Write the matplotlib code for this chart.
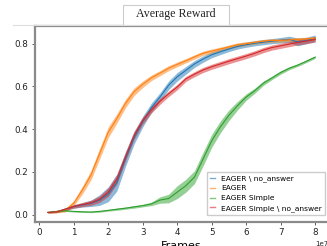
import matplotlib
matplotlib.use("Agg")
import matplotlib.pyplot as plt
from matplotlib.lines import Line2D
from matplotlib.patches import Rectangle
import numpy as np

# frames in units of 1e7
frames = [0.25, 0.5, 0.75, 1.0, 1.25, 1.5, 1.75, 2.0, 2.25, 2.5, 2.75, 3.0,
          3.25, 3.5, 3.75, 4.0, 4.25, 4.5, 4.75, 5.0, 5.25, 5.5, 5.75, 6.0,
          6.25, 6.5, 6.75, 7.0, 7.25, 7.5, 7.75, 8.0]

eager_no_answer = [0.010, 0.013, 0.025, 0.038, 0.045, 0.053, 0.068, 0.095,
                   0.150, 0.260, 0.360, 0.435, 0.500, 0.550, 0.605, 0.645,
                   0.675, 0.705, 0.728, 0.748, 0.762, 0.775, 0.787, 0.795,
                   0.802, 0.807, 0.812, 0.816, 0.820, 0.808, 0.815, 0.825]
eager_no_answer_err = [0.003, 0.004, 0.006, 0.008, 0.010, 0.015, 0.025, 0.035,
                       0.040, 0.035, 0.030, 0.025, 0.022, 0.020, 0.020, 0.020,
                       0.018, 0.016, 0.015, 0.014, 0.013, 0.012, 0.012, 0.012,
                       0.012, 0.012, 0.012, 0.013, 0.015, 0.018, 0.015, 0.016]

eager = [0.010, 0.012, 0.020, 0.053, 0.115, 0.185, 0.285, 0.385, 0.450, 0.520,
         0.575, 0.610, 0.640, 0.662, 0.685, 0.703, 0.720, 0.738, 0.755, 0.765,
         0.775, 0.785, 0.795, 0.800, 0.806, 0.812, 0.815, 0.815, 0.818, 0.820,
         0.822, 0.826]
eager_err = [0.003, 0.004, 0.008, 0.012, 0.018, 0.022, 0.025, 0.025, 0.022,
             0.020, 0.018, 0.015, 0.013, 0.012, 0.012, 0.011, 0.010, 0.010,
             0.010, 0.010, 0.009, 0.009, 0.009, 0.009, 0.008, 0.008, 0.008,
             0.008, 0.008, 0.008, 0.008, 0.008]

eager_simple = [0.010, 0.015, 0.018, 0.015, 0.013, 0.012, 0.015, 0.020,
                0.025, 0.030, 0.036, 0.042, 0.050, 0.068, 0.075, 0.105,
                0.135, 0.175, 0.260, 0.345, 0.410, 0.465, 0.510, 0.550,
                0.580, 0.615, 0.640, 0.665, 0.685, 0.700, 0.718, 0.737]
eager_simple_err = [0.002, 0.003, 0.003, 0.003, 0.003, 0.003, 0.004, 0.004,
                    0.005, 0.005, 0.006, 0.006, 0.008, 0.015, 0.020, 0.030,
                    0.030, 0.030, 0.032, 0.030, 0.028, 0.025, 0.020, 0.015,
                    0.012, 0.010, 0.008, 0.008, 0.007, 0.006, 0.006, 0.006]

eager_simple_no_answer = [0.010, 0.013, 0.025, 0.038, 0.047, 0.055, 0.072,
                          0.105, 0.165, 0.270, 0.370, 0.440, 0.490, 0.530,
                          0.565, 0.597, 0.635, 0.657, 0.677, 0.692, 0.705,
                          0.718, 0.730, 0.742, 0.755, 0.770, 0.782, 0.790,
                          0.798, 0.806, 0.812, 0.820]
eager_simple_no_answer_err = [0.003, 0.004, 0.006, 0.008, 0.010, 0.012, 0.015,
                              0.020, 0.022, 0.020, 0.018, 0.016, 0.015, 0.014,
                              0.013, 0.013, 0.012, 0.012, 0.012, 0.012, 0.012,
                              0.012, 0.012, 0.012, 0.012, 0.012, 0.012, 0.012,
                              0.012, 0.012, 0.012, 0.012]

labels = ["EAGER \\ no_answer", "EAGER", "EAGER Simple",
          "EAGER Simple \\ no_answer"]
colors = ["#1f77b4", "#ff7f0e", "#2ca02c", "#d62728"]

fig = plt.figure(figsize=(3.27, 2.46), dpi=100)
ax = fig.add_axes([34.5 / 327, 1 - 222 / 246, 294 / 327, 196 / 246])

x = np.array(frames) * 1e7
series = [(eager_no_answer, eager_no_answer_err),
          (eager, eager_err),
          (eager_simple, eager_simple_err),
          (eager_simple_no_answer, eager_simple_no_answer_err)]
for (mean, err), c in zip(series, colors):
    mean = np.array(mean)
    err = np.array(err)
    ax.fill_between(x, mean - err, mean + err, color=c, alpha=0.5, lw=0)
for (mean, err), c in zip(series, colors):
    ax.plot(x, mean, color=c, lw=0.8)

ax.set_xticks(np.arange(0, 9) * 1e7)
ax.set_yticks([0.0, 0.2, 0.4, 0.6, 0.8])
ax.tick_params(labelsize=6.3, colors="#444444", labelcolor="#222222",
               length=2.5, width=0.6, pad=2)
for side in ["left", "top", "bottom", "right"]:
    ax.spines[side].set_color("#8a8a8a")
    ax.spines[side].set_linewidth(1.6)
ax.xaxis.get_offset_text().set_fontsize(5)
ax.set_xlabel("Frames", fontsize=8, labelpad=2.5)

handles = [Line2D([], [], color=c, lw=1, alpha=0.6) for c in colors]
ax.legend(handles, labels, loc="lower right", fontsize=5.4, handlelength=0.7,
          handletextpad=0.8, labelspacing=0.45, borderpad=0.4,
          bbox_to_anchor=(325 / 327, 1 - 214.5 / 246),
          bbox_transform=fig.transFigure, borderaxespad=0,
          frameon=True, fancybox=False, edgecolor="#cccccc", framealpha=1)

# title tab and header line
fig.add_artist(Line2D([13 / 327, 1], [1 - 24.5 / 246] * 2,
                      transform=fig.transFigure, color="#dddddd", lw=0.8))
fig.add_artist(Rectangle((123 / 327, 1 - 24.5 / 246), 106 / 327, 19.5 / 246,
                         transform=fig.transFigure, facecolor="white",
                         edgecolor="#cccccc", lw=0.8))
fig.text(176 / 327, 1 - 14.5 / 246, "Average Reward", ha="center", va="center",
         fontsize=8.6, family="Liberation Serif", color="#222222")

fig.savefig("out.png", dpi=100)
